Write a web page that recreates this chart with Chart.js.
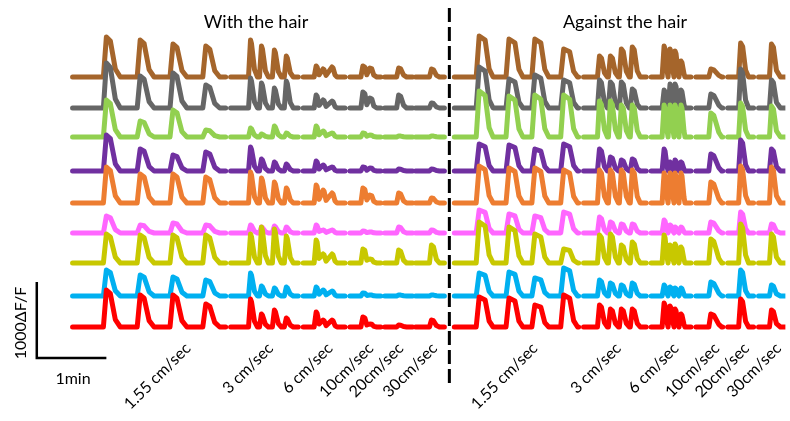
<!DOCTYPE html>
<html>
<head>
    <title> Calcium responses to brushing </title>
    <script src="https://cdn.jsdelivr.net/npm/chart.js"></script>
    <style> body { margin: 0; background: #fff; } </style>
</head>
<body>
<canvas id="myChart" width="790" height="421"></canvas>
<script>
// stimulus blocks (time axis, same units as the figure width)
const leftBlocks  = [[73, 227], [232, 300], [305, 347], [352, 383], [387, 415], [418, 447]];
const rightBlocks = [[457, 582], [587, 650], [655, 695], [700, 727], [732, 758], [763, 790]];
const leftStrokes  = [[107, 141, 174, 207], [252, 263, 276, 288], [318, 325, 334], [365, 372], [401], [434]];
const rightStrokes = [[482, 512, 538, 567], [603, 614, 625, 636], [668, 674, 679, 685], [715], [745], [776]];

const speedLabels = ['1.55 cm/sec', '3 cm/sec', '6 cm/sec', '10cm/sec', '20cm/sec', '30cm/sec',
                     '1.55 cm/sec', '3 cm/sec', '6 cm/sec', '10cm/sec', '20cm/sec', '30cm/sec'];
const speedTicks  = [189, 272, 332, 373, 403, 437, 538, 622, 680, 721, 751, 783];

const titles = ['With the hair', 'Against the hair'];

// peak amplitudes per neuron, one value per stroke (left = with, right = against)
const brownL  = [40, 37, 33, 31, 37, 31, 27, 21, 11, 8, 10, 11, 9, 9, 8];
const brownR  = [41, 38, 38, 28, 21, 21, 28, 30, 31, 28, 26, 16, 8, 34, 33];
const grayL   = [45, 32, 35, 23, 30, 25, 20, 27, 13, 8, 7, 16, 10, 13, 5];
const grayR   = [41, 29, 33, 28, 28, 26, 26, 19, 18, 24, 24, 18, 14, 39, 28];
const greenL  = [37, 16, 27, 7, 9, 3, 11, 4, 11, 6, 4, 4, 2, 1, 1];
const greenR  = [46, 41, 42, 42, 36, 36, 32, 32, 32, 32, 32, 32, 24, 34, 31];
const purpleL = [36, 22, 16, 19, 24, 12, 9, 7, 10, 6, 4, 4, 3, 2, 2];
const purpleR = [27, 26, 22, 27, 22, 14, 11, 12, 22, 9, 11, 9, 17, 31, 22];
const orangeL = [36, 29, 29, 26, 31, 25, 21, 15, 18, 13, 10, 15, 8, 10, 5];
const orangeR = [37, 35, 35, 33, 33, 33, 33, 33, 30, 30, 30, 30, 21, 37, 36];
const pinkL   = [17, 8, 10, 8, 8, 6, 7, 6, 8, 3, 3, 2, 1, 6, 3];
const pinkR   = [23, 19, 17, 21, 16, 11, 9, 9, 13, 8, 6, 6, 11, 21, 9];
const yellowL = [29, 28, 28, 28, 29, 36, 34, 27, 23, 9, 9, 14, 4, 13, 18];
const yellowR = [41, 36, 29, 14, 28, 29, 18, 21, 28, 18, 19, 16, 24, 39, 29];
const blueL   = [26, 21, 19, 16, 23, 10, 8, 9, 9, 6, 5, 3, 1, 1, 1];
const blueR   = [23, 24, 18, 28, 16, 13, 11, 13, 11, 9, 8, 8, 14, 26, 11];
const redL    = [37, 32, 32, 23, 28, 13, 17, 9, 15, 7, 7, 10, 3, 2, 7];
const redR    = [30, 29, 22, 32, 22, 18, 18, 18, 24, 21, 18, 13, 13, 28, 17];

// scale bar: 1000 dF/F and 1 min
const barY = [59, -17];
const barX = [37, 107];
const dividerX = 452;

// trace styling
const rows = [
    { l: brownL,  r: brownR,  color: '#a5652b', base: 264 },
    { l: grayL,   r: grayR,   color: '#666666', base: 233 },
    { l: greenL,  r: greenR,  color: '#92d050', base: 204 },
    { l: purpleL, r: purpleR, color: '#7030a0', base: 170 },
    { l: orangeL, r: orangeR, color: '#ed7d31', base: 138 },
    { l: pinkL,   r: pinkR,   color: '#ff66ff', base: 108 },
    { l: yellowL, r: yellowR, color: '#c8c800', base: 78 },
    { l: blueL,   r: blueR,   color: '#00b0f0', base: 45 },
    { l: redL,    r: redR,    color: '#ff0000', base: 14 }
];
// rise, top, decay, tail widths per block, and level kept between close strokes
const leftShape  = [[3, 4, 5, 5, 0], [2, 1, 3, 3, 0], [2, 1, 2, 2, 0.2], [2, 2, 2, 3, 0.2], [2, 2, 3, 3, 0], [2, 2, 3, 3, 0]];
const rightShape = [[3, 6, 4, 4, 0], [2, 2, 3, 3, 0], [2, 1, 2, 1, 0], [2, 3, 5, 3, 0], [2, 2, 3, 3, 0], [2, 2, 3, 4, 0]];

function addSide(pts, blocks, strokes, shape, amps, base) {
    let k = 0;
    let lastX = -1;
    function push(x, y) {
        x = Math.max(x, lastX);
        lastX = x;
        pts.push({ x: x, y: y });
    }
    blocks.forEach(function (b, i) {
        const s = shape[i];
        const n = strokes[i].length;
        push(b[0], base);
        strokes[i].forEach(function (t, j) {
            const h = amps[k++];
            if (j === 0 || s[4] === 0) push(t - s[0], base);
            push(t, base + h);
            push(t + s[1], base + h * 0.9);
            if (j < n - 1 && s[4] > 0) {
                push(t + s[1] + s[2], base + h * s[4]);
            } else {
                push(t + s[1] + s[2], base + h * 0.2);
                push(t + s[1] + s[2] + s[3], base);
            }
        });
        push(b[1], base);
        pts.push({ x: b[1] + 0.5, y: null });
    });
}

const datasets = rows.map(function (row, i) {
    const pts = [];
    addSide(pts, leftBlocks, leftStrokes, leftShape, row.l, row.base);
    addSide(pts, rightBlocks, rightStrokes, rightShape, row.r, row.base);
    return {
        data: pts,
        borderColor: row.color,
        borderWidth: 5,
        borderJoinStyle: 'round',
        borderCapStyle: 'round',
        pointRadius: 0,
        tension: 0,
        order: 20 - i
    };
});

datasets.push({
    data: [{ x: dividerX, y: 333 }, { x: dividerX, y: -44 }],
    borderColor: '#000', borderWidth: 3, borderDash: [14, 5],
    pointRadius: 0, clip: false, order: 0
});
datasets.push({
    data: [{ x: barX[0], y: barY[0] }, { x: barX[0], y: barY[1] }, { x: barX[1], y: barY[1] }],
    borderColor: '#000', borderWidth: 2.5,
    pointRadius: 0, clip: false, order: 0
});

const notes = {
    id: 'notes',
    afterDraw(chart) {
        const ctx = chart.ctx;
        ctx.save();
        ctx.fillStyle = '#000';
        ctx.textAlign = 'center';
        ctx.textBaseline = 'middle';
        ctx.font = '18px Lato';
        ctx.fillText(titles[0], 256, 22);
        ctx.fillText(titles[1], 625, 22);
        ctx.font = '16px Lato';
        ctx.fillText('1min', 73, 379);
        ctx.translate(21, 323);
        ctx.rotate(-Math.PI / 2);
        ctx.fillText('1000\u0394F/F', 0, 0);
        ctx.restore();
    }
};

new Chart(document.getElementById('myChart'), {
    type: 'line',
    data: { datasets: datasets },
    options: {
        responsive: false,
        animation: false,
        layout: { padding: 0 },
        plugins: { legend: { display: false }, tooltip: { enabled: false } },
        scales: {
            x: {
                type: 'linear', min: 0, max: 790,
                grid: { display: false, drawTicks: false },
                border: { display: false },
                afterBuildTicks: function (scale) {
                    scale.ticks = speedTicks.map(function (v) { return { value: v }; });
                },
                afterFit: function (scale) { scale.height = 80; },
                ticks: {
                    autoSkip: false, minRotation: 45, maxRotation: 45, padding: -2,
                    color: '#000', font: { family: 'Lato', size: 16 },
                    callback: function (v, i) { return speedLabels[i]; }
                }
            },
            y: { display: false, min: 0, max: 341 }
        }
    },
    plugins: [notes]
});
</script>
</body>
</html>
